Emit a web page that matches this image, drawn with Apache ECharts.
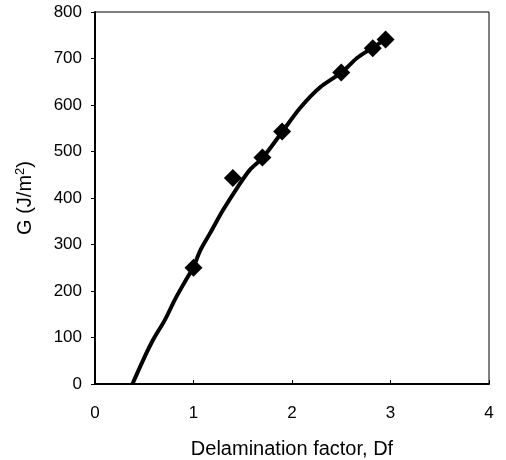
<!DOCTYPE html>
<html>
<head>
<meta charset="utf-8">
<script src="https://cdn.jsdelivr.net/npm/echarts@6/dist/echarts.min.js"></script>
<style>html,body{margin:0;padding:0;background:#fff}#c{width:506px;height:460px}</style>
</head>
<body>
<div id="c"></div>
<script>
// Fitted curve
var curveX = [0.38,0.49,0.59,0.71,0.81,0.91,1.0,1.07,1.17,1.30,1.45,1.57,1.70,1.90,2.08,2.28,2.51,2.66,2.81,2.94];
var curveY = [0,52,95,138,181,219,252,288,325,374,424,460,486,542,593,637,671,701,722,740];
// Measured points
var pointX = [1.0,1.4,1.7,1.9,2.5,2.82,2.95];
var pointY = [250,443,487,543,670,722,741];
var xTicks = [0,1,2,3,4];
var yTicks = [0,100,200,300,400,500,600,700,800];

var curve = curveX.map(function(x,i){return [x,curveY[i]];});
var points = pointX.map(function(x,i){return [x,pointY[i]];});
var font = 'Liberation Sans, Arial, sans-serif';
var chart = echarts.init(document.getElementById('c'));
chart.setOption({
  animation:false,
  backgroundColor:'#fff',
  grid:{left:95,right:17,top:12,bottom:76,show:true,borderColor:'#000',borderWidth:1,backgroundColor:'transparent',
        containLabel:false,outerBoundsMode:'none'},
  xAxis:{type:'value',min:xTicks[0],max:xTicks[xTicks.length-1],interval:1,
    name:'Delamination factor, Df',nameLocation:'middle',nameGap:55,
    nameTextStyle:{fontFamily:font,fontSize:20,color:'#000'},
    axisLine:{show:true,lineStyle:{color:'#000',width:2}},
    axisTick:{show:true,inside:true,length:4,lineStyle:{color:'#000'}},
    axisLabel:{margin:21,fontFamily:font,fontSize:17,color:'#000'},
    splitLine:{show:false}},
  yAxis:{type:'value',min:yTicks[0],max:yTicks[yTicks.length-1],interval:100,
    name:'{a|G (J/m}{s|2}{a|)}',nameLocation:'middle',nameGap:58,
    nameTextStyle:{fontFamily:font,fontSize:20,color:'#000',
      rich:{a:{fontFamily:font,fontSize:20,color:'#000'},
            s:{fontFamily:font,fontSize:13,color:'#000',verticalAlign:'top',padding:[0,0,10,0]}}},
    axisLine:{show:true,lineStyle:{color:'#000',width:2}},
    axisTick:{show:true,inside:false,length:4,lineStyle:{color:'#000'}},
    axisLabel:{margin:13,fontFamily:font,fontSize:17,color:'#000'},
    splitLine:{show:false}},
  series:[
    {type:'line',data:curve,smooth:0.3,showSymbol:false,symbol:'none',
     lineStyle:{color:'#000',width:4},z:2},
    {type:'scatter',data:points,symbol:'diamond',symbolSize:18,
     itemStyle:{color:'#000',opacity:1},z:3}
  ]
});
</script>
</body>
</html>
